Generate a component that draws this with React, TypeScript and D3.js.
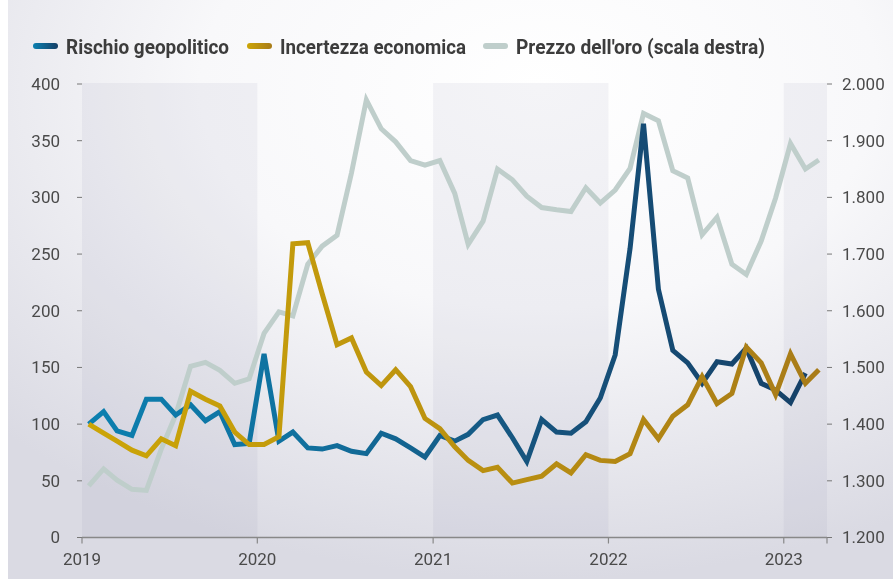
import React, { useEffect, useRef } from "react";
import * as d3 from "d3";

// monthly series, Jan 2019 onwards
const geoRisk = [
  100, 111, 94, 90, 122, 122, 108, 117, 103, 111, 82, 83,
  162, 85, 93, 79, 78, 81, 76, 74, 92, 87, 79, 71,
  90, 85, 91, 104, 108, 88, 67, 104, 93, 92, 102, 123,
  161, 255, 365, 219, 165, 154, 136, 155, 153, 167, 136, 130,
  119, 145,
];
const econUncertainty = [
  100, 92, 85, 77, 72, 87, 81, 129, 122, 116, 93, 82,
  82, 89, 259, 260, 215, 170, 176, 146, 134, 148, 133, 105,
  96, 80, 68, 59, 62, 48, 51, 54, 65, 57, 73, 68,
  67, 74, 104, 87, 107, 117, 142, 118, 127, 168, 154, 126,
  162, 136, 148,
];
const goldPrice = [
  1291, 1321, 1301, 1285, 1283, 1356, 1416, 1502, 1509, 1495, 1472, 1480,
  1560, 1598, 1591, 1682, 1714, 1733, 1843, 1972, 1921, 1898, 1865, 1857,
  1865, 1807, 1717, 1758, 1850, 1831, 1802, 1782, 1778, 1775, 1817, 1790,
  1813, 1851, 1948, 1935, 1847, 1834, 1734, 1765, 1682, 1664, 1723, 1799,
  1895, 1850, 1866,
];
const years = [2019, 2020, 2021, 2022, 2023];
const shadedYears = [2019, 2021, 2023];
const leftTicks = [0, 50, 100, 150, 200, 250, 300, 350, 400];
const rightTicks = [1200, 1300, 1400, 1500, 1600, 1700, 1800, 1900, 2000];

const legendItems = [
  { label: "Rischio geopolitico", grad: "gradGeo", x: 33, w: 163 },
  { label: "Incertezza economica", grad: "gradEcon", x: 247, w: 186 },
  { label: "Prezzo dell'oro (scala destra)", grad: "gradGold", x: 483, w: 249 },
];

const monthDate = (i: number) => new Date(2019, i, 15);
const fmtRight = (v: number) => d3.format(".3f")(v / 1000);

export default function App() {
  const ref = useRef<SVGSVGElement>(null);

  useEffect(() => {
    const width = 893;
    const height = 579;
    const svg = d3.select(ref.current);
    svg.selectAll("*").remove();
    svg.attr("width", width).attr("height", height);

    const left = 82;
    const right = 827;
    const top = 84;
    const bottom = 537.5;

    const x = d3
      .scaleTime()
      .domain([new Date(2019, 0, 1), new Date(2023, 3, 1)])
      .range([left, right]);
    const y = d3.scaleLinear().domain([0, 400]).range([bottom, top]);
    const y2 = d3.scaleLinear().domain([1200, 2000]).range([bottom, top]);

    const defs = svg.append("defs");
    const bg = defs
      .append("radialGradient")
      .attr("id", "bg")
      .attr("cx", "0.6")
      .attr("cy", "0.15")
      .attr("r", "0.85");
    bg.append("stop").attr("offset", "0").attr("stop-color", "#ffffff");
    bg.append("stop").attr("offset", "0.45").attr("stop-color", "#f8f8fa");
    bg.append("stop").attr("offset", "1").attr("stop-color", "#dadae3");

    const lineGrad = (id: string, stops: [number, string][]) => {
      const g = defs
        .append("linearGradient")
        .attr("id", id)
        .attr("gradientUnits", "userSpaceOnUse")
        .attr("x1", left)
        .attr("x2", right)
        .attr("y1", 0)
        .attr("y2", 0);
      stops.forEach(([o, c]) => g.append("stop").attr("offset", o).attr("stop-color", c));
    };
    lineGrad("gradGeo", [
      [0, "#0b80b0"],
      [0.3, "#10709e"],
      [0.6, "#16547e"],
      [1, "#153f66"],
    ]);
    lineGrad("gradEcon", [
      [0, "#cca506"],
      [0.4, "#bf960e"],
      [1, "#a87b18"],
    ]);
    lineGrad("gradGold", [
      [0, "#bfcecb"],
      [1, "#bfcecb"],
    ]);
    // legend swatches: small left-to-right gradients
    const swGrad = (id: string, a: string, b: string) => {
      const g = defs.append("linearGradient").attr("id", id + "Sw");
      g.append("stop").attr("offset", 0).attr("stop-color", a);
      g.append("stop").attr("offset", 1).attr("stop-color", b);
    };
    swGrad("gradGeo", "#0b80b0", "#153f66");
    swGrad("gradEcon", "#cca506", "#a87b18");
    swGrad("gradGold", "#bfcecb", "#bfcecb");

    svg
      .append("rect")
      .attr("x", 8)
      .attr("y", 0)
      .attr("width", width - 8)
      .attr("height", height)
      .attr("fill", "url(#bg)");

    // shaded years
    svg
      .append("g")
      .selectAll("rect")
      .data(shadedYears)
      .join("rect")
      .attr("x", (d) => x(new Date(d, 0, 1)))
      .attr("y", top - 1)
      .attr("width", (d) => Math.min(x(new Date(d + 1, 0, 1)), right) - x(new Date(d, 0, 1)))
      .attr("height", bottom - top + 1)
      .attr("fill", "#8a8aa6")
      .attr("opacity", 0.09);

    const font = "Roboto, 'Noto Sans', sans-serif";

    // left axis
    const gl = svg.append("g");
    gl.selectAll("line")
      .data(leftTicks)
      .join("line")
      .attr("x1", left - 5)
      .attr("x2", left)
      .attr("y1", (d) => y(d))
      .attr("y2", (d) => y(d))
      .attr("stroke", "#777")
      .attr("stroke-width", 1);
    gl.selectAll("text")
      .data(leftTicks)
      .join("text")
      .attr("x", 60)
      .attr("y", (d) => y(d))
      .attr("dy", "0.35em")
      .attr("text-anchor", "end")
      .attr("font-family", font)
      .attr("font-size", 17)
      .attr("fill", "#4a4a4a")
      .text((d) => d);

    // right axis
    const gr = svg.append("g");
    gr.selectAll("line")
      .data(rightTicks)
      .join("line")
      .attr("x1", right)
      .attr("x2", right + 5)
      .attr("y1", (d) => y2(d))
      .attr("y2", (d) => y2(d))
      .attr("stroke", "#777")
      .attr("stroke-width", 1);
    gr.selectAll("text")
      .data(rightTicks)
      .join("text")
      .attr("x", 842)
      .attr("y", (d) => y2(d))
      .attr("dy", "0.35em")
      .attr("font-family", font)
      .attr("font-size", 17)
      .attr("fill", "#4a4a4a")
      .text((d) => fmtRight(d));

    // x axis
    const gx = svg.append("g");
    gx.append("line")
      .attr("x1", left)
      .attr("x2", right)
      .attr("y1", bottom)
      .attr("y2", bottom)
      .attr("stroke", "#888")
      .attr("stroke-width", 1.5);
    const xTickDates = [...years.map((d) => new Date(d, 0, 1)), new Date(2023, 3, 1)];
    gx.selectAll("line.tick")
      .data(xTickDates)
      .join("line")
      .attr("class", "tick")
      .attr("x1", (d) => x(d))
      .attr("x2", (d) => x(d))
      .attr("y1", bottom)
      .attr("y2", bottom + 6)
      .attr("stroke", "#888")
      .attr("stroke-width", 1.2);
    gx.selectAll("text")
      .data(years)
      .join("text")
      .attr("x", (d) => x(new Date(d, 0, 1)))
      .attr("y", 565)
      .attr("text-anchor", "middle")
      .attr("font-family", font)
      .attr("font-size", 17)
      .attr("fill", "#4a4a4a")
      .text((d) => d);

    // lines
    const lineL = d3
      .line<number>()
      .x((_, i) => x(monthDate(i)))
      .y((d) => y(d));
    const lineR = d3
      .line<number>()
      .x((_, i) => x(monthDate(i)))
      .y((d) => y2(d));

    const drawLine = (path: string | null, grad: string) =>
      svg
        .append("path")
        .attr("d", path)
        .attr("fill", "none")
        .attr("stroke", `url(#${grad})`)
        .attr("stroke-width", 5)
        .attr("stroke-linejoin", "miter")
        .attr("stroke-miterlimit", 6);

    drawLine(lineR(goldPrice), "gradGold");
    drawLine(lineL(geoRisk), "gradGeo");
    drawLine(lineL(econUncertainty), "gradEcon");

    // legend
    const lg = svg.append("g");
    legendItems.forEach((d) => {
      lg.append("rect")
        .attr("x", d.x)
        .attr("y", 43)
        .attr("width", 25)
        .attr("height", 6)
        .attr("rx", 3)
        .attr("fill", `url(#${d.grad}Sw)`);
      lg.append("text")
        .attr("x", d.x + 33)
        .attr("y", 53.5)
        .attr("font-family", font)
        .attr("font-weight", 700)
        .attr("font-size", 21)
        .attr("fill", "#3c3c3c")
        .attr("textLength", d.w)
        .attr("lengthAdjust", "spacingAndGlyphs")
        .text(d.label);
    });
  }, []);

  return (
    <div style={{ position: "fixed", left: 0, top: 0 }}>
      <svg ref={ref} style={{ display: "block" }}></svg>
    </div>
  );
}
